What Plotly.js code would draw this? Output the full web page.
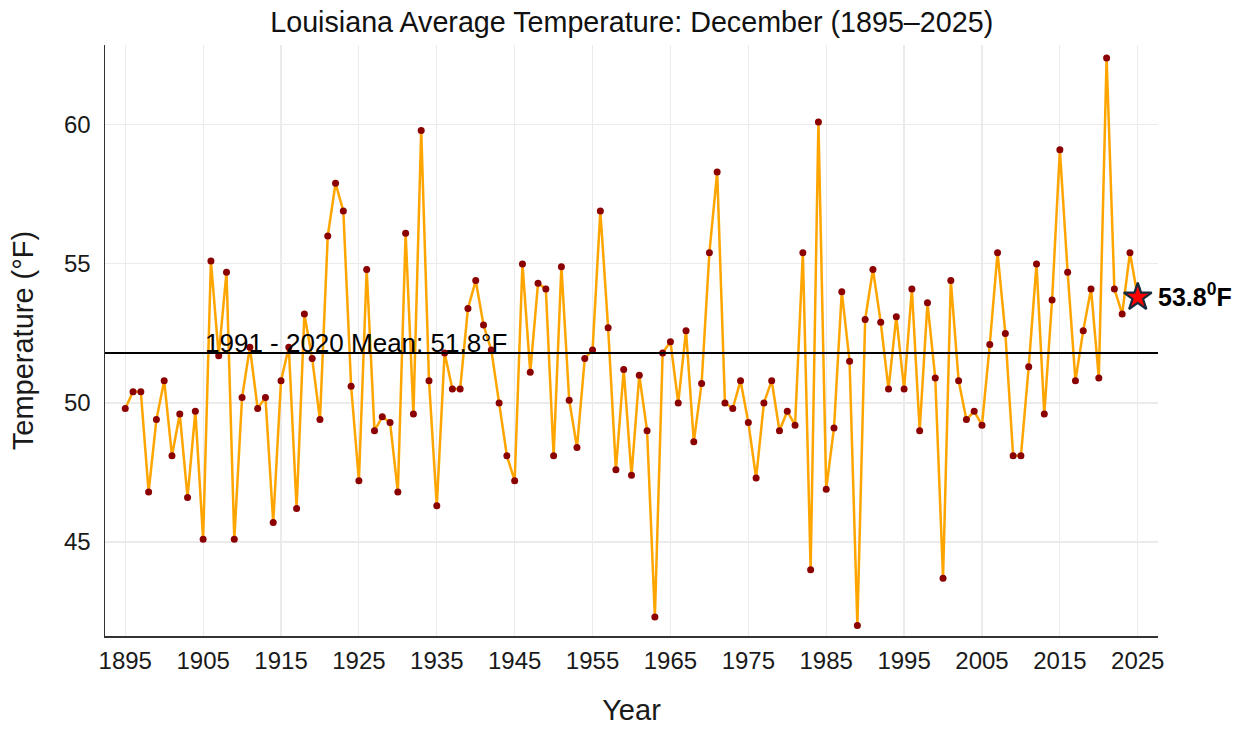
<!DOCTYPE html>
<html>
<head>
<meta charset="utf-8">
<script src="https://cdn.plot.ly/plotly-3.0.1.min.js"></script>
<style>html,body{margin:0;padding:0;background:#fff;}#chart{width:1246px;height:729px;}</style>
</head>
<body>
<div id="chart"></div>
<script>
const startYear = 1895;
const temps = [
  49.8, 50.4, 50.4, 46.8, 49.4, 50.8, 48.1, 49.6, 46.6, 49.7,
  45.1, 55.1, 51.7, 54.7, 45.1, 50.2, 52.0, 49.8, 50.2, 45.7,
  50.8, 52.0, 46.2, 53.2, 51.6, 49.4, 56.0, 57.9, 56.9, 50.6,
  47.2, 54.8, 49.0, 49.5, 49.3, 46.8, 56.1, 49.6, 59.8, 50.8,
  46.3, 51.8, 50.5, 50.5, 53.4, 54.4, 52.8, 51.9, 50.0, 48.1,
  47.2, 55.0, 51.1, 54.3, 54.1, 48.1, 54.9, 50.1, 48.4, 51.6,
  51.9, 56.9, 52.7, 47.6, 51.2, 47.4, 51.0, 49.0, 42.3, 51.8,
  52.2, 50.0, 52.6, 48.6, 50.7, 55.4, 58.3, 50.0, 49.8, 50.8,
  49.3, 47.3, 50.0, 50.8, 49.0, 49.7, 49.2, 55.4, 44.0, 60.1,
  46.9, 49.1, 54.0, 51.5, 42.0, 53.0, 54.8, 52.9, 50.5, 53.1,
  50.5, 54.1, 49.0, 53.6, 50.9, 43.7, 54.4, 50.8, 49.4, 49.7,
  49.2, 52.1, 55.4, 52.5, 48.1, 48.1, 51.3, 55.0, 49.6, 53.7,
  59.1, 54.7, 50.8, 52.6, 54.1, 50.9, 62.4, 54.1, 53.2, 55.4,
  53.8
];
const years = temps.map((_, i) => startYear + i);
const xTickVals = [1895, 1905, 1915, 1925, 1935, 1945, 1955, 1965, 1975, 1985, 1995, 2005, 2015, 2025];
const yTickVals = [45, 50, 55, 60];
const meanValue = 51.8;
const meanLabel = "1991 - 2020 Mean: 51.8°F";
const latestLabel = "<b>53.8<sup>0</sup>F</b>";
const titleText = "Louisiana Average Temperature: December (1895–2025)";

const n = years.length;
const font = "Liberation Sans, Arial, sans-serif";

const traces = [
  {x: years, y: temps, type: 'scatter', mode: 'lines',
   line: {color: '#FFA500', width: 2.5}, hoverinfo: 'skip'},
  {x: years.slice(0, n - 1), y: temps.slice(0, n - 1), type: 'scatter', mode: 'markers',
   marker: {color: '#8B0000', size: 7}},
  {x: years.slice(n - 1), y: temps.slice(n - 1), type: 'scatter', mode: 'markers',
   marker: {symbol: 'star', color: '#FF0000', size: 21, line: {color: '#17293a', width: 2.2}}}
];

const layout = {
  width: 1246, height: 729,
  margin: {l: 105, r: 88, t: 45, b: 93},
  paper_bgcolor: '#fff', plot_bgcolor: '#fff',
  showlegend: false,
  font: {family: font, color: '#1a1a1a'},
  title: {text: titleText, x: 0.507, xanchor: 'center', y: 0.970, yanchor: 'middle',
          font: {size: 28.7, color: '#111', family: font}},
  xaxis: {
    range: [1892.4, 2027.6], tickvals: xTickVals, ticktext: xTickVals.map(String),
    showgrid: true, gridcolor: '#ebebeb', gridwidth: 1.2, zeroline: false,
    showline: true, linecolor: '#333', linewidth: 1.5, ticks: '',
    tickfont: {size: 24, color: '#1a1a1a'}, ticklabelstandoff: 3,
    title: {text: 'Year', font: {size: 29, color: '#1a1a1a'}, standoff: 26}
  },
  yaxis: {
    range: [41.62, 62.87], tickvals: yTickVals, ticktext: yTickVals.map(String),
    showgrid: true, gridcolor: '#ebebeb', gridwidth: 1.2, zeroline: false,
    showline: true, linecolor: '#333', linewidth: 1.5, ticks: '',
    tickfont: {size: 24, color: '#1a1a1a'}, ticklabelstandoff: 8,
    title: {text: 'Temperature (°F)', font: {size: 29, color: '#1a1a1a'}, standoff: 22}
  },
  shapes: [
    {type: 'line', xref: 'paper', x0: 0, x1: 1, yref: 'y', y0: meanValue, y1: meanValue,
     line: {color: '#000', width: 2}, layer: 'above'}
  ],
  annotations: [
    {x: 1905.0, y: meanValue, xref: 'x', yref: 'y', text: meanLabel, showarrow: false,
     xanchor: 'left', yanchor: 'bottom', yshift: -7, font: {size: 26, color: '#000'}},
    {x: years[n - 1], y: temps[n - 1], xref: 'x', yref: 'y', text: latestLabel, showarrow: false,
     xanchor: 'left', yanchor: 'middle', xshift: 18, yshift: 2, font: {size: 25, color: '#000'}}
  ]
};

Plotly.newPlot('chart', traces, layout, {displayModeBar: false, staticPlot: true});
</script>
</body>
</html>
